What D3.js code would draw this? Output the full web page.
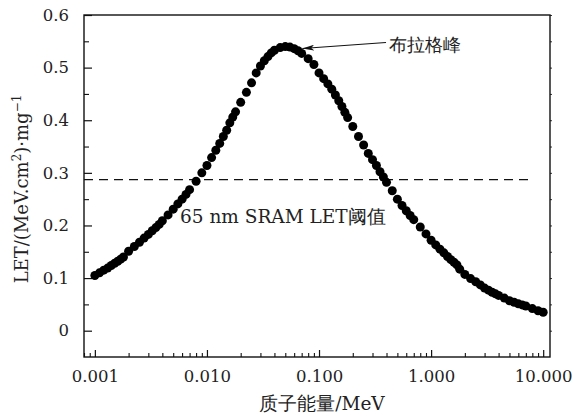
<!DOCTYPE html>
<html><head><meta charset="utf-8">
<script src="https://cdn.jsdelivr.net/npm/d3@7"></script>
<style>body{margin:0;background:#fff}svg{display:block}</style>
</head><body>
<svg id="c" width="580" height="418"></svg>
<script>
// Proton energy (MeV)
const energies = [
 0.0010,0.0011,0.0012,0.0013,0.0014,0.0015,0.0016,0.0017,0.0018,0.0020,0.00225,0.0025,0.00275,0.0030,0.00325,0.0035,0.00375,0.0040,0.0045,0.0050,0.0055,0.0060,0.0065,0.0070,0.0080,0.0090,
 0.010,0.011,0.012,0.013,0.014,0.015,0.016,0.017,0.018,0.020,0.0225,0.025,0.0275,0.030,0.0325,0.035,0.0375,0.040,0.045,0.050,0.055,0.060,0.065,0.070,0.080,0.090,
 0.10,0.11,0.12,0.13,0.14,0.15,0.16,0.17,0.18,0.20,0.225,0.25,0.275,0.30,0.325,0.35,0.375,0.40,0.45,0.50,0.55,0.60,0.65,0.70,0.80,0.90,
 1.0,1.1,1.2,1.3,1.4,1.5,1.6,1.7,1.8,2.0,2.25,2.5,2.75,3.0,3.25,3.5,3.75,4.0,4.5,5.0,5.5,6.0,6.5,7.0,8.0,9.0,10.0
];
// LET (MeV·cm2/mg)
const letValues = [
 0.105,0.110,0.115,0.119,0.124,0.128,0.132,0.136,0.140,0.151,0.160,0.168,0.176,0.183,0.190,0.196,0.202,0.209,0.220,0.231,0.241,0.250,0.259,0.268,0.284,0.300,
 0.314,0.329,0.343,0.356,0.369,0.381,0.395,0.406,0.416,0.434,0.453,0.471,0.490,0.503,0.513,0.521,0.528,0.533,0.538,0.540,0.539,0.536,0.532,0.527,0.517,0.506,
 0.490,0.479,0.469,0.459,0.448,0.437,0.426,0.415,0.405,0.388,0.369,0.353,0.337,0.325,0.314,0.302,0.292,0.282,0.266,0.250,0.238,0.228,0.219,0.211,0.197,0.184,
 0.172,0.163,0.155,0.148,0.141,0.135,0.130,0.125,0.117,0.107,0.099,0.093,0.087,0.081,0.077,0.073,0.070,0.067,0.062,0.057,0.054,0.051,0.049,0.047,0.042,0.038,0.035
];
const xMajorTicks = [0.001, 0.01, 0.1, 1, 10];
const xTickLabels = ["0.001", "0.010", "0.100", "1.000", "10.000"];
const yMajorTicks = [0, 0.1, 0.2, 0.3, 0.4, 0.5, 0.6];
const yTickLabels = ["0", "0.1", "0.2", "0.3", "0.4", "0.5", "0.6"];
const thresholdLET = 0.287;
const thresholdLabel = "65 nm SRAM LET阈值";
const peakLabel = "布拉格峰";
const xTitle = "质子能量/MeV";

const L = 84, R = 550, T = 15, B = 357;
const svg = d3.select("#c");
const font = "'DejaVu Serif', serif";

const x = d3.scaleLog().domain([0.0008, 11.5]).range([L, R]);
const y = d3.scaleLinear().domain([-0.05, 0.6]).range([B, T]);

// minor ticks
const xMinor = [];
[0.0001, 0.001, 0.01, 0.1, 1].forEach(d => { for (let k = 2; k <= 9; k++) { const v = d * k; if (v >= 0.0008 && v <= 11.5 && !xMajorTicks.includes(+v.toPrecision(6))) xMinor.push(v); } });
const yMinor = d3.range(-0.05, 0.6, 0.1).map(v => +(v).toFixed(2)).filter(v => v > -0.05);

// bottom axis
const gx = svg.append("g").attr("transform", `translate(0,${B})`);
gx.call(d3.axisBottom(x).tickValues(xMajorTicks).tickFormat((d, i) => xTickLabels[i]).tickSizeInner(-7).tickSizeOuter(0).tickPadding(13));
gx.select(".domain").remove();
gx.selectAll("text").attr("font-family", font).attr("font-size", 16.5).attr("fill", "#222");
gx.selectAll(".tick line").attr("stroke", "#111").attr("stroke-width", 1.2);
const gxm = svg.append("g").attr("transform", `translate(0,${B})`);
gxm.call(d3.axisBottom(x).tickValues(xMinor).tickFormat("").tickSizeInner(-4).tickSizeOuter(0));
gxm.select(".domain").remove();
gxm.selectAll(".tick line").attr("stroke", "#111").attr("stroke-width", 1.1);

// left axis
const gy = svg.append("g").attr("transform", `translate(${L},0)`);
gy.call(d3.axisLeft(y).tickValues(yMajorTicks).tickFormat((d, i) => yTickLabels[i]).tickSizeInner(-8).tickSizeOuter(0).tickPadding(15));
gy.select(".domain").remove();
gy.selectAll("text").attr("font-family", font).attr("font-size", 16.5).attr("fill", "#222");
gy.selectAll(".tick line").attr("stroke", "#111").attr("stroke-width", 1.2);
const gym = svg.append("g").attr("transform", `translate(${L},0)`);
gym.call(d3.axisLeft(y).tickValues(yMinor).tickFormat("").tickSizeInner(-5).tickSizeOuter(0));
gym.select(".domain").remove();
gym.selectAll(".tick line").attr("stroke", "#111").attr("stroke-width", 1.1);

// right axis tiny outward ticks
const gr = svg.append("g").attr("transform", `translate(${R},0)`);
gr.call(d3.axisRight(y).tickValues(d3.range(0, 13).map(i => +(i * 0.05).toFixed(2))).tickFormat("").tickSizeInner(2).tickSizeOuter(0));
gr.select(".domain").remove();
gr.selectAll(".tick line").attr("stroke", "#333").attr("stroke-width", 1);

// frame
svg.append("rect").attr("x", L).attr("y", T).attr("width", R - L).attr("height", B - T)
  .attr("fill", "none").attr("stroke", "#111").attr("stroke-width", 1.4);

// threshold dashed line
svg.append("line").attr("x1", L).attr("x2", 532).attr("y1", y(thresholdLET)).attr("y2", y(thresholdLET))
  .attr("stroke", "#111").attr("stroke-width", 1.2).attr("stroke-dasharray", "9,6");

// dots
svg.append("g").selectAll("circle").data(energies.map((e, i) => [e, letValues[i]])).join("circle")
  .attr("cx", d => x(d[0])).attr("cy", d => y(d[1])).attr("r", 4.5).attr("fill", "#000");

// annotations
svg.append("text").attr("x", 180).attr("y", 223).attr("font-family", font).attr("font-size", 18.5).attr("fill", "#222").text(thresholdLabel);

const peakIdx = letValues.indexOf(d3.max(letValues));
const tipX = x(energies[peakIdx]) + 17, tipY = y(letValues[peakIdx]) + 2;
svg.append("defs").append("marker").attr("id", "ah").attr("viewBox", "0 0 12 6").attr("refX", 12).attr("refY", 3)
  .attr("markerWidth", 12).attr("markerHeight", 6).attr("markerUnits", "userSpaceOnUse").attr("orient", "auto")
  .append("path").attr("d", "M0,0 L12,3 L0,6 L3,3 Z").attr("fill", "#111");
svg.append("line").attr("x1", 386).attr("y1", 42.5).attr("x2", tipX).attr("y2", tipY)
  .attr("stroke", "#111").attr("stroke-width", 1.1).attr("marker-end", "url(#ah)");
svg.append("text").attr("x", 389).attr("y", 51).attr("font-family", font).attr("font-size", 18).attr("fill", "#222").text(peakLabel);

// axis titles
svg.append("text").attr("x", (L + R) / 2 + 5).attr("y", 410).attr("text-anchor", "middle")
  .attr("font-family", font).attr("font-size", 18.5).attr("fill", "#222").text(xTitle);

const yt = svg.append("text").attr("transform", "translate(28,189) rotate(-90)").attr("text-anchor", "middle")
  .attr("font-family", font).attr("font-size", 18).attr("fill", "#222");
yt.append("tspan").text("LET/(MeV.cm");
yt.append("tspan").attr("dy", -7).attr("font-size", 12).text("2");
yt.append("tspan").attr("dy", 7).text(")·mg");
yt.append("tspan").attr("dy", -7).attr("font-size", 12).text("−1");
</script>
</body></html>
